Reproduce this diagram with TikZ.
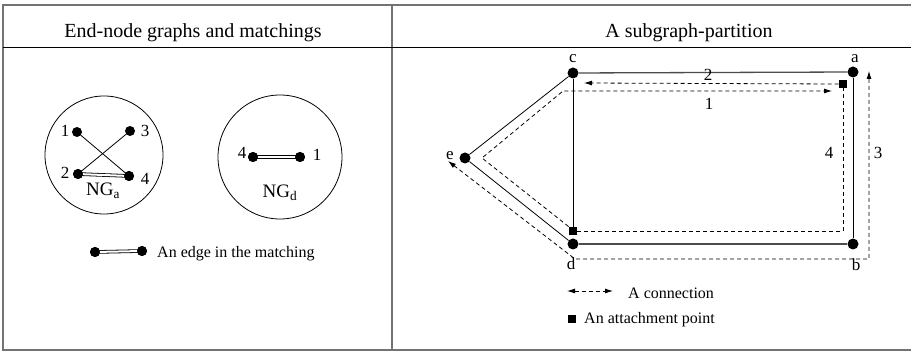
\documentclass[tikz,border=0pt]{standalone}
\usepackage{fontspec}
\setmainfont{Liberation Serif}
\usetikzlibrary{arrows.meta}
\begin{document}
\begin{tikzpicture}[x=1pt,y=-1pt,
  dot/.style={circle,fill=black,inner sep=0pt,minimum size=10pt},
  bigdot/.style={circle,fill=black,inner sep=0pt,minimum size=11pt},
  sq/.style={rectangle,fill=black,inner sep=0pt,minimum size=8.5pt},
  edge/.style={line width=0.8pt},
  hedge/.style={line width=1.3pt,black!70},
  match/.style={double=white,double distance=2pt,line width=0.8pt},
  conn/.style={line width=0.8pt,dash pattern=on 4pt off 3pt},
  tip/.style={-{Latex[length=8pt,width=5pt]}},
  tips/.style={{Latex[length=8pt,width=5pt]}-{Latex[length=8pt,width=5pt]}},
  ttl/.style={font=\fontsize{20}{24}\selectfont},
  lbl/.style={font=\fontsize{17}{20}\selectfont,inner sep=0pt},
  leg/.style={font=\fontsize{16}{19}\selectfont,anchor=west,inner sep=0pt},
  frame/.style={line width=2pt,black!55}]
\useasboundingbox (0,0) rectangle (911,352);
% frame
\draw[frame] (3,5) -- (911,5);
\draw[frame] (3,4) -- (3,351);
\draw[frame] (2,350.5) -- (911,350.5);
\draw[frame] (392,5) -- (392,351);
\draw[line width=1pt] (3,48) -- (911,48);
% titles
\node[ttl] (tl) at (193,33) {End-node graphs and matchings};
\node[ttl] (tr) at (689,33) {A subgraph-partition};
% NG_a
\draw[edge] (104,155) circle [radius=59pt];
\node[dot] (n1) at (77,132) {};
\node[dot] (n3) at (130,131) {};
\node[dot] (n2) at (78,174) {};
\node[dot] (n4) at (129,176) {};
\draw[edge] (n1) -- (n4);
\draw[edge] (n3) -- (n2);
\draw[match] (n2.center) -- (n4.center);
\node[dot] at (n2) {};
\node[dot] at (n4) {};
\node[lbl] (l1) at (65,131) {1};
\node[lbl] (l3) at (145,131) {3};
\node[lbl] (l2) at (65,173) {2};
\node[lbl] (l4) at (145,179) {4};
\node[lbl,font=\fontsize{19}{22}\selectfont] (nga) at (103,191) {NG\textsubscript{a}};
% NG_d
\draw[edge] (280,157) circle [radius=62pt];
\node[dot] (m4) at (253,157) {};
\node[dot] (m1) at (300,157) {};
\draw[match] (m4.center) -- (m1.center);
\node[dot] at (m4) {};
\node[dot] at (m1) {};
\node[lbl] (k4l) at (242,153) {4};
\node[lbl] (k1l) at (317,155) {1};
\node[lbl,font=\fontsize{19}{22}\selectfont] (ngd) at (280,193) {NG\textsubscript{d}};
% legend left
\node[dot] (la) at (95,252) {};
\node[dot] (lb) at (142,251) {};
\draw[match] (la.center) -- (lb.center);
\node[dot] at (la) {};
\node[dot] at (lb) {};
\node[leg] (lt) at (157,254) {An edge in the matching};
% right graph
\node[bigdot] (c) at (573,73) {};
\node[bigdot] (a) at (853,72) {};
\node[bigdot] (b) at (853,244) {};
\node[bigdot] (d) at (573,244) {};
\node[bigdot] (e) at (465,158) {};
\node[sq] (sa) at (843,84) {};
\node[sq] (sd) at (573,231) {};
\draw[hedge] (c) -- (a);
\draw[hedge] (d) -- (b);
\draw[edge] (a) -- (b);
\draw[edge] (c) -- (sd);
\draw[edge] (c) -- (e);
\draw[edge] (e) -- (d);
\node[lbl] (lc) at (573,59) {c};
\node[lbl] (la2) at (855,59) {a};
\node[lbl] (le) at (450,156) {e};
\node[lbl] (ld) at (571,264) {d};
\node[lbl] (lb2) at (856,265) {b};
% connections
\coordinate (k1) at (482,158);
\coordinate (k2) at (563,91);
\coordinate (t1) at (832,91);
\coordinate (t2) at (584,83);
\coordinate (t3a) at (448,161);
\coordinate (k3) at (575,259);
\coordinate (k4) at (869,259);
\coordinate (t3b) at (869,71);
\draw[conn,tip] (sd.north west) -- (k1) -- (k2) -- (t1);
\draw[conn,tip] (sa.west) -- (t2);
\draw[conn,tips] (t3a) -- (k3) -- (k4) -- (t3b);
\draw[conn] (sd.east) -- (sd.east -| sa) -- (sa.south);
\node[lbl] (c2) at (708,75) {2};
\node[lbl] (c1) at (709,104) {1};
\node[lbl] (c4) at (829,153) {4};
\node[lbl] (c3) at (878,153) {3};
% legend right
\coordinate (ra) at (567,291);
\coordinate (rb) at (613,291);
\draw[conn,tips] (ra) -- (rb);
\node[leg] (rt1) at (628,293) {A connection};
\node[sq] (rs) at (572,319) {};
\node[leg] (rt2) at (584,320) {An attachment point};
\end{tikzpicture}
\end{document}
